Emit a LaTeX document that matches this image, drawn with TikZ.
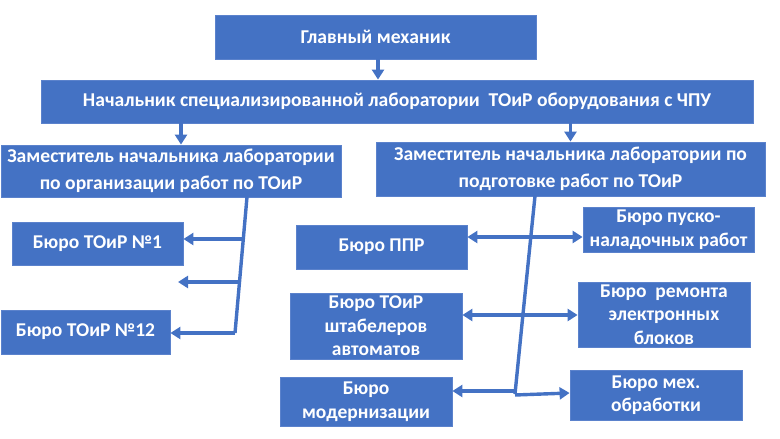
\documentclass[tikz,border=0pt]{standalone}
\usepackage{fontspec}
\setmainfont{Carlito}
\usepackage{xcolor}
\definecolor{mainBlue}{HTML}{4472C4}
\definecolor{edgeBlue}{HTML}{5B82CC}
\usepackage{tikz}
\usetikzlibrary{positioning,calc,arrows.meta}
\tikzset{%
  unitBox/.style={%
    rectangle,
    draw=edgeBlue,
    line width=0.8pt,
    fill=mainBlue,
    text=white,
    inner sep=0pt,
    align=center,
    font=\bfseries\fontsize{19.5}{23.5}\selectfont
  },
  topBox/.style={%
    unitBox,
    font=\bfseries\fontsize{19.6}{27}\selectfont
  },
  arrowLine/.style={%
    -{Triangle[length=10pt,width=12pt]},
    line width=3.4pt,
    color=mainBlue
  },
  bothArrow/.style={%
    {Triangle[length=10pt,width=12pt]}-{Triangle[length=10pt,width=12pt]},
    line width=3.4pt,
    color=mainBlue
  },
  trunkLine/.style={%
    line width=3.4pt,
    color=mainBlue,
    line join=round
  }
}

\begin{document}
\begin{tikzpicture}[x=1pt,y=-1pt]
  \useasboundingbox (0,0) rectangle (780,439);

  % top of the scheme
  \node[topBox, minimum width=321pt, minimum height=44pt] (chief) at (375.5,37) {Главный механик};
  \node[topBox, minimum width=712pt, minimum height=43pt] (head) at (397,101.5) {Начальник специализированной лаборатории \ ТОиР оборудования с ЧПУ};
  \node[topBox, minimum width=340pt, minimum height=52pt] (depLeft) at (171,171) {Заместитель начальника лаборатории\\по организации работ по ТОиР};
  \node[topBox, minimum width=389pt, minimum height=54pt] (depRight) at (570.5,169) {Заместитель начальника лаборатории по\\подготовке работ по ТОиР};

  % left bureaus
  \node[unitBox, minimum width=171pt, minimum height=43pt] (bureauOne) at (97.5,243.5) {Бюро ТОиР №1};
  \node[unitBox, minimum width=169pt, minimum height=44pt] (bureauTwelve) at (85.5,332) {Бюро ТОиР №12};

  % right bureaus
  \node[unitBox, minimum width=171pt, minimum height=44pt] (ppr) at (381.5,247) {Бюро ППР};
  \node[unitBox, minimum width=171pt, minimum height=45pt] (startUp) at (668.5,229.5) {Бюро пуско-\\наладочных работ};
  \node[unitBox, minimum width=172pt, minimum height=66pt] (stacker) at (376,326) {Бюро ТОиР\\штабелеров\\автоматов};
  \node[unitBox, minimum width=172pt, minimum height=65pt] (repair) at (664,314.5) {Бюро \ ремонта\\электронных\\блоков};
  \node[unitBox, minimum width=172pt, minimum height=49pt] (modern) at (366,401.5) {Бюро\\модернизации};
  \node[unitBox, minimum width=172pt, minimum height=50pt] (mech) at (656,395) {Бюро мех.\\обработки};

  % junctions on the trunks
  \coordinate (leftTop) at (247,197);
  \coordinate (jOne) at (243.3,239);
  \coordinate (jMid) at (239.5,282);
  \coordinate (jTwelve) at (235,333);
  \coordinate (midEnd) at (178,282);
  \coordinate (rightTop) at (535,196);
  \coordinate (jPpr) at (530.8,237);
  \coordinate (jStack) at (522.9,315);
  \coordinate (jLow) at (515,394);

  \draw[arrowLine] (chief.south -| 378,0) -- (head.north -| 378,0);
  \draw[arrowLine] ([xshift=10pt]depLeft.north |- head.south) -- ([xshift=10pt]depLeft.north);
  \draw[arrowLine] (depRight.north |- head.south) -- (depRight.north);

  \draw[trunkLine] (leftTop) -- (jOne) -- (jMid) -- (jTwelve);
  \draw[arrowLine] (jOne) -- (jOne -| bureauOne.east);
  \draw[arrowLine] (jMid) -- (midEnd);
  \draw[arrowLine] (jTwelve) -- (jTwelve -| bureauTwelve.east);

  \draw[trunkLine] (rightTop) -- (jPpr) -- (jStack) -- (jLow);
  \draw[bothArrow] (jPpr -| ppr.east) -- (jPpr -| startUp.west);
  \draw[bothArrow] (jStack -| stacker.east) -- (jStack -| repair.west);
  \draw[arrowLine] ([yshift=3pt]jLow) -- ([yshift=3pt]jLow -| modern.east);
  \draw[arrowLine] ([yshift=-1pt]jLow) -- ([yshift=1pt]jLow -| mech.west);
\end{tikzpicture}
\end{document}
